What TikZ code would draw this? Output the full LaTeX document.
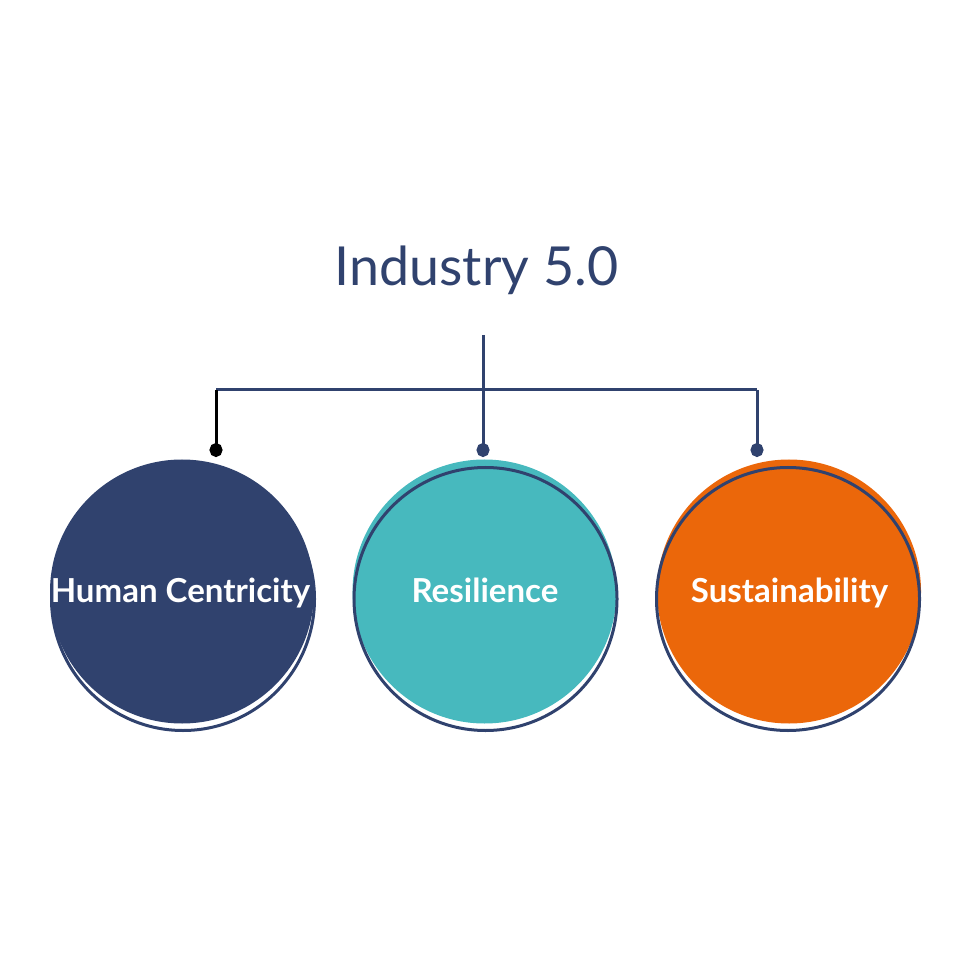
\documentclass[tikz,border=0pt]{standalone}
\usepackage{fontspec}
\setmainfont{Lato}
\usetikzlibrary{arrows.meta}
\definecolor{navy}{RGB}{48,66,110}
\definecolor{teal}{RGB}{71,185,190}
\definecolor{orange}{RGB}{235,103,10}
\tikzstyle{disc} = [circle, minimum size=26.4mm, inner sep=0pt]
\tikzstyle{ring} = [circle, draw=navy, line width=0.3mm, minimum size=26.3mm, inner sep=0pt]
\tikzstyle{pillar} = [text=white, font=\bfseries\fontsize{9.4}{11}\selectfont, anchor=base]
\tikzstyle{link} = [line width=0.3mm, draw=navy]
\tikzstyle{dot} = [-{Circle[length=1.4mm,width=1.3mm]}]

\begin{document}
\begin{tikzpicture}[x=0.1mm, y=-0.1mm]
			\useasboundingbox (0,0) rectangle (970,970);
			
			\node [text=navy, font=\fontsize{15.3}{18}\selectfont, anchor=base] (title) at (476.5,286) {Industry 5.0};
			
			\foreach \name/\x/\rx/\col in {HC/182/183/navy, Res/484.5/485.5/teal, Sus/789/788/orange}{
				\node [disc, fill=\col] (\name) at (\x,591.5) {};
				\node [ring] (\name ring) at (\rx,599) {};
			}
			\node [pillar] (HCtext)  at (180.5,602) {Human Centricity};
			\node [pillar] (Restext) at (485,602) {Resilience};
			\node [pillar] (Sustext) at (789.5,602) {Sustainability};
			
			\coordinate (top) at (483,335);
			\coordinate (hub) at (483,390);
			\coordinate (left) at (216,390);
			\coordinate (right) at (757,390);
			\coordinate (HCdot) at (216,457);
			\coordinate (Resdot) at (483,457);
			\coordinate (Susdot) at (757,457);
			
			\draw [link] (left) -- (right);
			\draw [link, dot] (top) -- (Resdot);
			\draw [link, dot, draw=black, fill=black] (left) -- (HCdot);
			\draw [link, dot, fill=navy] (right) -- (Susdot);
			
\end{tikzpicture}
\end{document}
